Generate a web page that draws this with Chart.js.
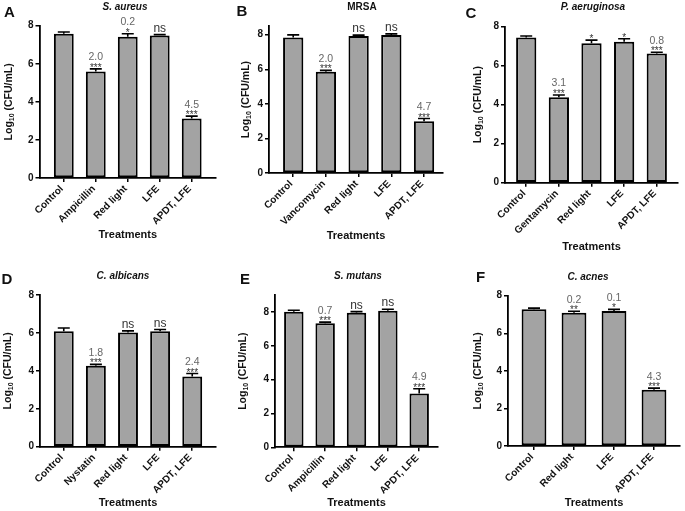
<!DOCTYPE html>
<html>
<head>
<meta charset="utf-8">
<script src="https://cdn.jsdelivr.net/npm/chart.js@4.4.0/dist/chart.umd.min.js"></script>
<style>
  body { margin: 0; background: #fff; }
  #wrap { position: relative; width: 685px; height: 511px; }
  #wrap canvas { position: absolute; left: 0; top: 0; }
</style>
</head>
<body>
<div id="wrap"></div>
<script>
// y ticks shared by every panel
const yTickValues = [0, 2, 4, 6, 8];

// A - S. aureus
const labelsA = ['Control', 'Ampicillin', 'Red light', 'LFE', 'APDT, LFE'];
const meansA = [7.58, 5.60, 7.42, 7.49, 3.13];
const errorsA = [0.09, 0.13, 0.16, 0.04, 0.12];
const reductionA = ['', '2.0', '0.2', '', '4.5'];
const signifA = ['', '***', '*', 'ns', '***'];

// B - MRSA
const labelsB = ['Control', 'Vancomycin', 'Red light', 'LFE', 'APDT, LFE'];
const meansB = [7.84, 5.86, 7.92, 7.98, 3.00];
const errorsB = [0.15, 0.08, 0.06, 0.07, 0.15];
const reductionB = ['', '2.0', '', '', '4.7'];
const signifB = ['', '***', 'ns', 'ns', '***'];

// C - P. aeruginosa
const labelsC = ['Control', 'Gentamycin', 'Red light', 'LFE', 'APDT, LFE'];
const meansC = [7.44, 4.38, 7.15, 7.23, 6.63];
const errorsC = [0.08, 0.12, 0.16, 0.15, 0.06];
const reductionC = ['', '3.1', '', '', '0.8'];
const signifC = ['', '***', '*', '*', '***'];

// D - C. albicans
const labelsD = ['Control', 'Nystatin', 'Red light', 'LFE', 'APDT, LFE'];
const meansD = [6.09, 4.27, 6.02, 6.09, 3.70];
const errorsD = [0.17, 0.07, 0.09, 0.09, 0.16];
const reductionD = ['', '1.8', '', '', '2.4'];
const signifD = ['', '***', 'ns', 'ns', '***'];

// E - S. mutans
const labelsE = ['Control', 'Ampicillin', 'Red light', 'LFE', 'APDT, LFE'];
const meansE = [8.02, 7.33, 7.96, 8.08, 3.18];
const errorsE = [0.08, 0.07, 0.06, 0.08, 0.28];
const reductionE = ['', '0.7', '', '', '4.9'];
const signifE = ['', '***', 'ns', 'ns', '***'];

// F - C. acnes
const labelsF = ['Control', 'Red light', 'LFE', 'APDT, LFE'];
const meansF = [7.28, 7.09, 7.19, 3.00];
const errorsF = [0.06, 0.08, 0.08, 0.08];
const reductionF = ['', '0.2', '0.1', '4.3'];
const signifF = ['', '**', '*', '***'];

const FONT = "'Liberation Sans', Arial, sans-serif";

const panels = [
  { letter: 'A', lx: 9.5, ly: 12.5, title: 'S. aureus', italic: true, tx: 125, ty: 7,
    area: { l: 39.5, r: 216, t: 25.7, b: 178 }, yMax: 8, padL: 0.76, padR: 0.76, yTitleX: 9, treatY: 235,
    labels: labelsA, means: meansA, errors: errorsA, reduction: reductionA, signif: signifA },
  { letter: 'B', lx: 242, ly: 12, title: 'MRSA', italic: false, tx: 362, ty: 7,
    area: { l: 269, r: 443, t: 26.1, b: 173 }, yMax: 8.5, padL: 0.74, padR: 0.58, yTitleX: 246, treatY: 235.5,
    labels: labelsB, means: meansB, errors: errorsB, reduction: reductionB, signif: signifB },
  { letter: 'C', lx: 471, ly: 13.5, title: 'P. aeruginosa', italic: true, tx: 593, ty: 7,
    area: { l: 505, r: 678, t: 26.7, b: 182.7 }, yMax: 8, padL: 0.65, padR: 0.65, yTitleX: 478, treatY: 247,
    labels: labelsC, means: meansC, errors: errorsC, reduction: reductionC, signif: signifC },
  { letter: 'D', lx: 7, ly: 280, title: 'C. albicans', italic: true, tx: 123, ty: 276.7,
    area: { l: 40, r: 216, t: 295, b: 446.7 }, yMax: 8, padL: 0.74, padR: 0.74, yTitleX: 8.5, treatY: 503,
    labels: labelsD, means: meansD, errors: errorsD, reduction: reductionD, signif: signifD },
  { letter: 'E', lx: 245, ly: 280, title: 'S. mutans', italic: true, tx: 358, ty: 276.7,
    area: { l: 275, r: 438, t: 295.1, b: 447.3 }, yMax: 9, padL: 0.6, padR: 0.6, yTitleX: 243, treatY: 503,
    labels: labelsE, means: meansE, errors: errorsE, reduction: reductionE, signif: signifE },
  { letter: 'F', lx: 480.5, ly: 278, title: 'C. acnes', italic: true, tx: 588, ty: 277,
    area: { l: 508, r: 680, t: 295.7, b: 446 }, yMax: 8, padL: 0.65, padR: 0.65, yTitleX: 478, treatY: 503,
    labels: labelsF, means: meansF, errors: errorsF, reduction: reductionF, signif: signifF }
];

const wrap = document.getElementById('wrap');
const Y_W = 30, X_H = 60;

function makePanel(p) {
  const canvas = document.createElement('canvas');
  canvas.width = 685; canvas.height = 511;
  wrap.appendChild(canvas);

  // error bars, significance marks and panel texts
  const extras = {
    id: 'extras' + p.letter,
    afterDatasetsDraw(chart) {
      const ctx = chart.ctx;
      const ys = chart.scales.y;
      const meta = chart.getDatasetMeta(0);
      ctx.save();
      meta.data.forEach((bar, i) => {
        const x = bar.x;
        const yTop = ys.getPixelForValue(p.means[i]);
        const yErr = ys.getPixelForValue(p.means[i] + p.errors[i]);
        ctx.strokeStyle = '#000';
        ctx.lineWidth = 1.6;
        ctx.beginPath();
        ctx.moveTo(x, yTop); ctx.lineTo(x, yErr);
        ctx.moveTo(x - 6, yErr); ctx.lineTo(x + 6, yErr);
        ctx.stroke();

        ctx.textAlign = 'center';
        ctx.textBaseline = 'alphabetic';
        const s = p.signif[i];
        if (s === 'ns') {
          ctx.fillStyle = '#333';
          ctx.font = '12px ' + FONT;
          ctx.fillText('ns', x, yErr - 3);
        } else if (s) {
          ctx.fillStyle = '#333';
          ctx.font = '10px ' + FONT;
          ctx.fillText(s, x, yErr + 2);
        }
        if (p.reduction[i]) {
          ctx.fillStyle = '#666';
          ctx.font = '10.5px ' + FONT;
          ctx.fillText(p.reduction[i], x, yErr - 8.5);
        }
      });
      ctx.restore();
    },
    afterDraw(chart) {
      const ctx = chart.ctx;
      ctx.save();
      ctx.fillStyle = '#111';
      ctx.textAlign = 'center';
      ctx.textBaseline = 'middle';
      ctx.font = 'bold 15px ' + FONT;
      ctx.fillText(p.letter, p.lx, p.ly);
      ctx.font = (p.italic ? 'italic ' : '') + 'bold 10px ' + FONT;
      ctx.fillText(p.title, p.tx, p.ty);
      ctx.font = 'bold 11px ' + FONT;
      ctx.fillText('Treatments', (p.area.l + p.area.r) / 2, p.treatY);

      // rotated y title with subscript
      const big = 'bold 10.5px ' + FONT, small = 'bold 7px ' + FONT;
      ctx.font = big; const w1 = ctx.measureText('Log').width;
      const w3 = ctx.measureText(' (CFU/mL)').width;
      ctx.font = small; const w2 = ctx.measureText('10').width;
      const total = w1 + w2 + w3;
      ctx.translate(p.yTitleX, (p.area.t + p.area.b) / 2);
      ctx.rotate(-Math.PI / 2);
      ctx.textAlign = 'left';
      ctx.textBaseline = 'middle';
      let cx = -total / 2;
      ctx.font = big; ctx.fillText('Log', cx, 0); cx += w1;
      ctx.font = small; ctx.fillText('10', cx, 3); cx += w2;
      ctx.font = big; ctx.fillText(' (CFU/mL)', cx, 0);
      ctx.restore();
    }
  };

  new Chart(canvas, {
    type: 'bar',
    data: {
      datasets: [{
        data: p.means.map((v, i) => ({ x: i, y: v })),
        backgroundColor: '#a3a3a3',
        borderColor: '#000',
        borderWidth: 2,
        borderSkipped: false,
        barPercentage: 1,
        categoryPercentage: 0.62
      }]
    },
    options: {
      responsive: false,
      animation: false,
      devicePixelRatio: 1,
      layout: {
        padding: {
          left: p.area.l - Y_W,
          right: 685 - p.area.r,
          top: p.area.t,
          bottom: 511 - p.area.b - X_H
        }
      },
      plugins: { legend: { display: false }, tooltip: { enabled: false } },
      scales: {
        x: {
          type: 'linear',
          offset: false,
          min: -p.padL,
          max: p.labels.length - 1 + p.padR,
          afterFit: s => { s.height = X_H; },
          afterBuildTicks: s => { s.ticks = p.labels.map((_, i) => ({ value: i })); },
          ticks: {
            autoSkip: false,
            minRotation: 45, maxRotation: 45,
            padding: 1,
            labelOffset: -2,
            color: '#111',
            font: { family: FONT, size: 10, weight: 'bold' },
            callback: v => p.labels[v]
          },
          grid: { offset: false, drawOnChartArea: false, drawTicks: true, tickLength: 4, color: '#000', lineWidth: 1.5 },
          border: { display: true, color: '#000', width: 1.8 }
        },
        y: {
          min: 0,
          max: p.yMax,
          afterFit: s => { s.width = Y_W; },
          afterBuildTicks: s => { s.ticks = yTickValues.map(v => ({ value: v })); },
          ticks: {
            padding: 2,
            color: '#111',
            font: { family: FONT, size: 10, weight: 'bold' }
          },
          grid: { drawOnChartArea: false, drawTicks: true, tickLength: 4, color: '#000', lineWidth: 1.5 },
          border: { display: true, color: '#000', width: 1.8 }
        }
      }
    },
    plugins: [extras]
  });
}

panels.forEach(makePanel);
</script>
</body>
</html>
